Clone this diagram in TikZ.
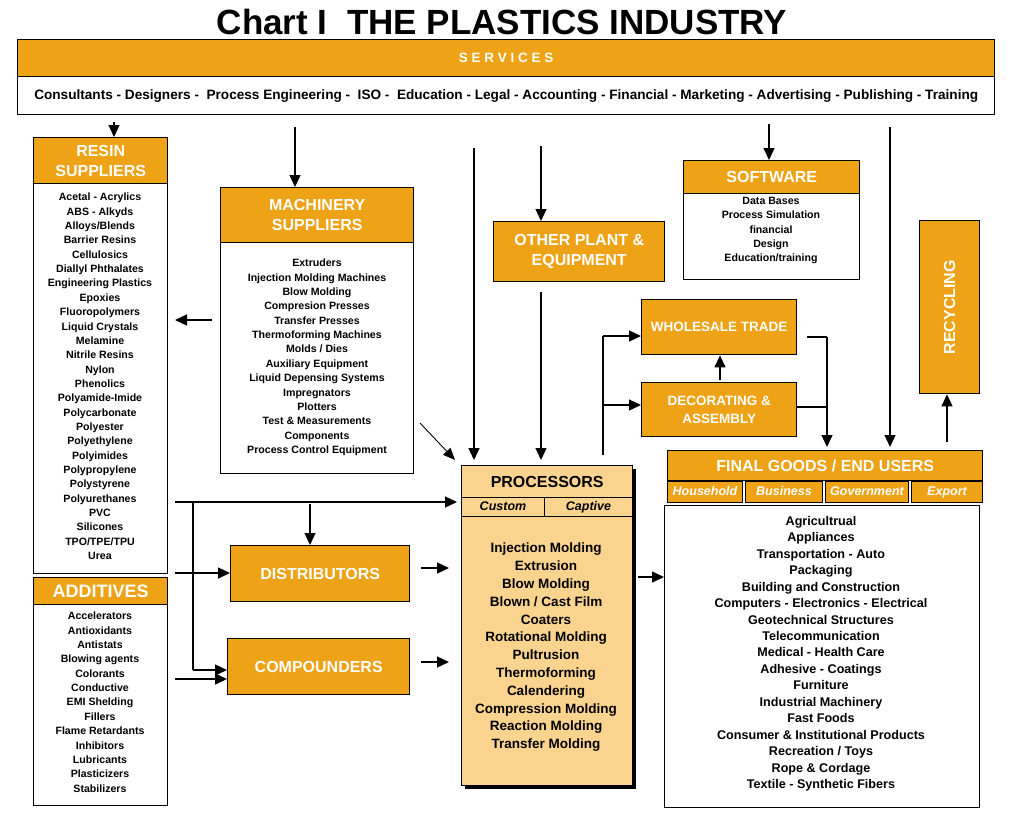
\documentclass[tikz,border=0pt]{standalone}
\usepackage{fontspec}
\setmainfont{Liberation Sans}
\usetikzlibrary{arrows.meta}
\definecolor{orng}{RGB}{238,162,22}
\definecolor{lorng}{RGB}{250,212,142}
\tikzset{
  box/.style={draw, line width=1.4pt, fill=orng, anchor=north west, inner sep=0pt, text=white, font=\bfseries\fontsize{16}{20}\selectfont, align=center},
  lbox/.style={box, fill=lorng, text=black},
  wbox/.style={draw, line width=1.4pt, fill=white, anchor=north west, inner sep=0pt},
  sub/.style={box, font=\bfseries\itshape\fontsize{12.5}{13}\selectfont, line width=1pt, text height=9pt, text depth=2.5pt},
  lst/.style={anchor=north, align=center, inner sep=0pt, font=\bfseries\fontsize{10.6}{14.35}\selectfont},
  arr/.style={line width=1.3pt, -{Triangle[length=12pt,width=11pt]}},
  ln/.style={line width=1.3pt}
}
\begin{document}
\begin{tikzpicture}[x=1pt,y=-1pt]
\useasboundingbox (0,0) rectangle (1027,825);
\node[font=\bfseries\fontsize{35}{36}\selectfont] (title) at (502,22) {Chart I\ \ THE PLASTICS INDUSTRY};
% services
\node[box, minimum width=977, minimum height=37, font=\bfseries\fontsize{13.5}{14}\selectfont] (servH) at (17,39) {S\ E\ R\ V\ I\ C\ E\ S};
\node[wbox, minimum width=977, minimum height=38, font=\bfseries\fontsize{13.6}{14}\selectfont] (serv) at (17,76) {Consultants - Designers -\ \ Process Engineering -\ \ ISO -\ \ Education - Legal - Accounting - Financial - Marketing - Advertising - Publishing - Training};
% resin
\node[wbox, minimum width=134, minimum height=390] (resinB) at (33,183) {};
\node[box, minimum width=134, minimum height=46] (resinH) at (33,137) {RESIN\\SUPPLIERS};
\node[lst] (resinL) at (100,193) {Acetal - Acrylics\\ABS - Alkyds\\Alloys/Blends\\Barrier Resins\\Cellulosics\\Diallyl Phthalates\\Engineering Plastics\\Epoxies\\Fluoropolymers\\Liquid Crystals\\Melamine\\Nitrile Resins\\Nylon\\Phenolics\\Polyamide-Imide\\Polycarbonate\\Polyester\\Polyethylene\\Polyimides\\Polypropylene\\Polystyrene\\Polyurethanes\\PVC\\Silicones\\TPO/TPE/TPU\\Urea};
% additives
\node[wbox, minimum width=134, minimum height=201] (addB) at (33,604) {};
\node[box, minimum width=134, minimum height=27, font=\bfseries\fontsize{18}{20}\selectfont] (addH) at (33,577) {ADDITIVES};
\node[lst] (addL) at (100,612) {Accelerators\\Antioxidants\\Antistats\\Blowing agents\\Colorants\\Conductive\\EMI Shelding\\Fillers\\Flame Retardants\\Inhibitors\\Lubricants\\Plasticizers\\Stabilizers};
% machinery
\node[wbox, minimum width=193, minimum height=231] (machB) at (220,242) {};
\node[box, minimum width=193, minimum height=55] (machH) at (220,187) {MACHINERY\\SUPPLIERS};
\node[lst] (machL) at (317,259) {Extruders\\Injection Molding Machines\\Blow Molding\\Compresion Presses\\Transfer Presses\\Thermoforming Machines\\Molds / Dies\\Auxiliary Equipment\\Liquid Depensing Systems\\Impregnators\\Plotters\\Test \& Measurements\\Components\\Process Control Equipment};
% other plant
\node[box, minimum width=171, minimum height=60] (other) at (493,221) {OTHER PLANT \&\\EQUIPMENT};
% software
\node[wbox, minimum width=176, minimum height=86] (softB) at (683,193) {};
\node[box, minimum width=176, minimum height=33] (softH) at (683,160) {SOFTWARE};
\node[lst] (softL) at (771,197) {Data Bases\\Process Simulation\\financial\\Design\\Education/training};
% wholesale, decorating
\node[box, minimum width=155, minimum height=55, font=\bfseries\fontsize{13.5}{18}\selectfont] (whole) at (641,299) {WHOLESALE TRADE};
\node[box, minimum width=155, minimum height=54, font=\bfseries\fontsize{13.5}{18}\selectfont] (deco) at (641,382) {DECORATING \&\\ASSEMBLY};
% recycling
\node[box, minimum width=60, minimum height=173] (recyc) at (919,220) {};
\node[text=white, font=\bfseries\fontsize{16}{17}\selectfont, rotate=90] (recycT) at (recyc.center) {RECYCLING};
% final goods
\node[box, minimum width=315, minimum height=30] (finH) at (667,450) {FINAL GOODS / END USERS};
\node[sub, minimum width=75, minimum height=21] (hh) at (667,481) {Household};
\node[sub, minimum width=77, minimum height=21] (bus) at (745,481) {Business};
\node[sub, minimum width=83, minimum height=21] (gov) at (825,481) {Government};
\node[sub, minimum width=71, minimum height=21] (exp) at (911,481) {Export};
\node[wbox, minimum width=315, minimum height=302] (finB) at (664,505) {};
\node[lst, font=\bfseries\fontsize{12.6}{16.45}\selectfont] (finL) at (821,516) {Agricultrual\\Appliances\\Transportation - Auto\\Packaging\\Building and Construction\\Computers - Electronics - Electrical\\Geotechnical Structures\\Telecommunication\\Medical - Health Care\\Adhesive - Coatings\\Furniture\\Industrial Machinery\\Fast Foods\\Consumer \& Institutional Products\\Recreation / Toys\\Rope \& Cordage\\Textile - Synthetic Fibers};
% processors
\fill (465,469) rectangle (636,789);
\node[lbox, minimum width=171, minimum height=269] (procB) at (461,516) {};
\node[lbox, minimum width=171, minimum height=32, text=black] (procH) at (461,465) {PROCESSORS};
\node[sub, fill=lorng, text=black, minimum width=83, minimum height=19] (cust) at (461,497) {Custom};
\node[sub, fill=lorng, text=black, minimum width=88, minimum height=19] (capt) at (544,497) {Captive};
\node[lst, font=\bfseries\fontsize{13.5}{17.8}\selectfont] (procL) at (546,543) {Injection Molding\\Extrusion\\Blow Molding\\Blown / Cast Film\\Coaters\\Rotational Molding\\Pultrusion\\Thermoforming\\Calendering\\Compression Molding\\Reaction Molding\\Transfer Molding};
% distributors, compounders
\node[box, minimum width=179, minimum height=56] (dist) at (230,545) {DISTRIBUTORS};
\node[box, minimum width=182, minimum height=56] (comp) at (227,638) {COMPOUNDERS};
% coordinates
\coordinate (a1) at (114,122); \coordinate (a2) at (295,127); \coordinate (a3) at (474,148);
\coordinate (a4) at (541,146); \coordinate (a5) at (769,124); \coordinate (a6) at (890,127);
\coordinate (b1) at (212,320); \coordinate (b2) at (420,423); \coordinate (b3) at (541,292);
\coordinate (c1) at (603,455); \coordinate (c2) at (603,336); \coordinate (c3) at (603,405);
\coordinate (d1) at (720,380); \coordinate (e1) at (807,337); \coordinate (e2) at (827,337);
\coordinate (e3) at (797,407); \coordinate (e4) at (827,407); \coordinate (f1) at (947,442);
\coordinate (g1) at (175,502); \coordinate (g2) at (193,502); \coordinate (g3) at (193,670);
\coordinate (g4) at (310,504); \coordinate (g5) at (175,573); \coordinate (g6) at (175,679);
\coordinate (h1) at (421,568); \coordinate (h2) at (421,662); \coordinate (h3) at (638,577);
% arrows
\draw[arr] (a1) -- (resinH.north -| a1);
\draw[arr] (a2) -- (machH.north -| a2);
\draw[arr] (a3) -- (474,460);
\draw[arr] (a4) -- (other.north -| a4);
\draw[arr] (a5) -- (softH.north -| a5);
\draw[arr] (a6) -- (890,447);
\draw[arr] (b1) -- (175,320);
\draw[line width=0.9pt, -{Triangle[length=12pt,width=10pt]}] (b2) -- (455,460);
\draw[arr] (b3) -- (541,460);
\draw[ln] (c1) -- (c2);
\draw[arr] (c2) -- (whole.west |- c2);
\draw[arr] (c3) -- (deco.west |- c3);
\draw[arr] (d1) -- (whole.south -| d1);
\draw[ln] (e1) -- (e2);
\draw[arr] (e2) -- (827,447);
\draw[ln] (e3) -- (e4);
\draw[arr] (f1) -- (recyc.south -| f1);
\draw[arr] (g1) -- (457,502);
\draw[ln] (g2) -- (g3);
\draw[arr] (g3) -- (comp.west |- g3);
\draw[arr] (g4) -- (dist.north -| g4);
\draw[arr] (g5) -- (dist.west |- g5);
\draw[arr] (g6) -- (comp.west |- g6);
\draw[arr] (h1) -- (449,568);
\draw[arr] (h2) -- (449,662);
\draw[arr] (h3) -- (finB.west |- h3);
\end{tikzpicture}
\end{document}
